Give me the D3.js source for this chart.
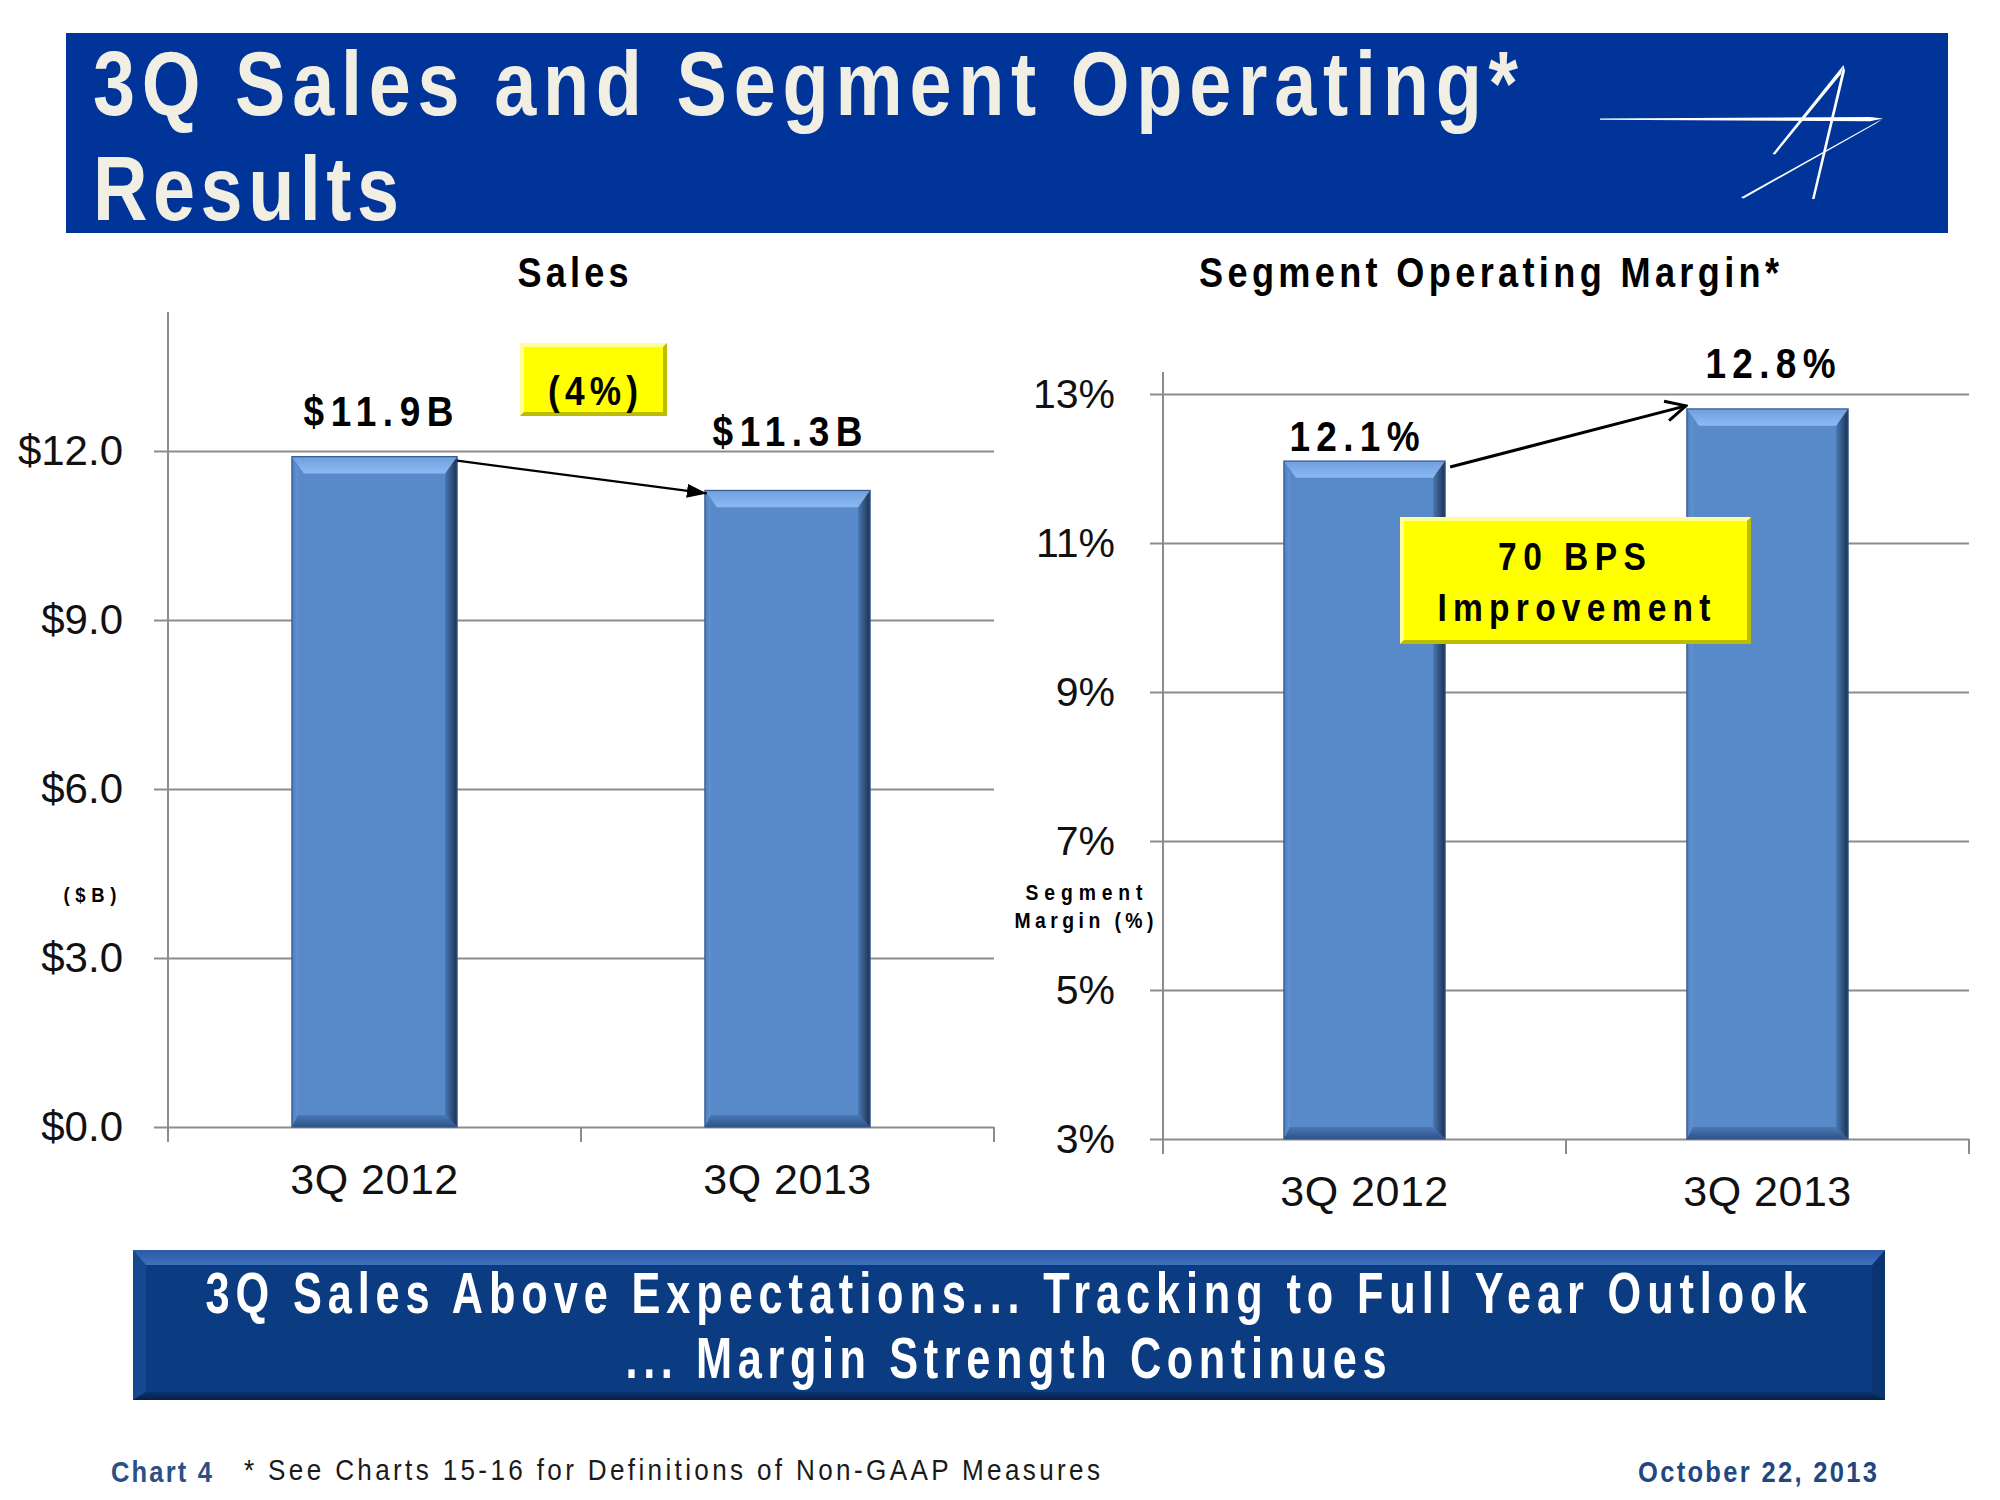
<!DOCTYPE html>
<html>
<head>
<meta charset="utf-8">
<script src="https://cdn.jsdelivr.net/npm/d3@7"></script>
<style>
  html, body { margin: 0; padding: 0; background: #ffffff; }
  svg { display: block; }
</style>
</head>
<body>
<script>
// ---------------- DATA ----------------
const categories = ["3Q 2012", "3Q 2013"];
const salesValues = [11.9, 11.3];
const salesLabels = ["$11.9B", "$11.3B"];
const salesTicks = [0, 3, 6, 9, 12];
const salesTickLabels = ["$0.0", "$3.0", "$6.0", "$9.0", "$12.0"];
const marginValues = [12.1, 12.8];
const marginLabels = ["12.1%", "12.8%"];
const marginTicks = [3, 5, 7, 9, 11, 13];
const marginTickLabels = ["3%", "5%", "7%", "9%", "11%", "13%"];

// ---------------- SETUP ----------------
const W = 2000, H = 1500;
const FONT = "'Liberation Sans', Arial, sans-serif";
const svg = d3.select("body").append("svg").attr("width", W).attr("height", H)
  .style("font-family", FONT);
svg.append("rect").attr("width", W).attr("height", H).attr("fill", "#ffffff");

const defs = svg.append("defs");
function linGrad(id, x1, y1, x2, y2, stops) {
  const g = defs.append("linearGradient").attr("id", id)
    .attr("x1", x1).attr("y1", y1).attr("x2", x2).attr("y2", y2);
  stops.forEach(s => g.append("stop").attr("offset", s[0]).attr("stop-color", s[1]));
}
linGrad("barRight", 0, 0, 1, 0, [[0, "#4a77b2"], [1, "#1b3152"]]);
linGrad("barTop", 0, 0, 0, 1, [[0, "#6f9fe0"], [1, "#8cb9f2"]]);
linGrad("barLeft", 0, 0, 1, 0, [[0, "#4f7fbd"], [1, "#6393d2"]]);
linGrad("barBottom", 0, 0, 0, 1, [[0, "#4a78b6"], [1, "#2e5387"]]);
linGrad("banTop", 0, 0, 0, 1, [[0, "#2b5aa6"], [1, "#3f70bf"]]);
linGrad("banBottom", 0, 0, 0, 1, [[0, "#0a3470"], [1, "#061f48"]]);

defs.append("marker").attr("id", "headFilled")
  .attr("viewBox", "0 0 10 10").attr("refX", 10).attr("refY", 5)
  .attr("markerUnits", "userSpaceOnUse").attr("markerWidth", 20).attr("markerHeight", 14)
  .attr("preserveAspectRatio", "none").attr("orient", "auto")
  .append("path").attr("d", "M0,0 L10,5 L0,10 Z").attr("fill", "#000");
defs.append("marker").attr("id", "headOpen")
  .attr("viewBox", "-1 -1 12 12").attr("refX", 10).attr("refY", 5)
  .attr("markerUnits", "userSpaceOnUse").attr("markerWidth", 24).attr("markerHeight", 24)
  .attr("orient", "auto")
  .append("path").attr("d", "M0,0 L10,5 L0,10").attr("fill", "none")
  .attr("stroke", "#000").attr("stroke-width", 1.5).attr("stroke-linejoin", "miter");

// text helper: optional horizontal squeeze (sq) to mimic the condensed, letter-spaced face
function txt(g, o) {
  const s = o.sq || 1;
  const t = g.append("text").text(o.text)
    .attr("font-size", o.size).attr("font-weight", o.weight || "normal")
    .attr("fill", o.fill || "#000").attr("text-anchor", o.anchor || "start")
    .attr("font-family", FONT);
  if (s !== 1) {
    t.attr("x", 0).attr("y", 0).attr("transform", `translate(${o.x},${o.y}) scale(${s},1)`);
  } else {
    t.attr("x", o.x).attr("y", o.y);
  }
  if (o.len) t.attr("textLength", o.len / s).attr("lengthAdjust", o.adjust || "spacing");
  return t;
}

// ---------------- TITLE BANNER ----------------
svg.append("rect").attr("x", 66).attr("y", 33).attr("width", 1882).attr("height", 200).attr("fill", "#013498");
txt(svg, { x: 93, y: 115, text: "3Q Sales and Segment Operating*", size: 90, weight: "bold", fill: "#f1eee4", len: 1425, sq: 0.84 });
txt(svg, { x: 93, y: 220, text: "Results", size: 90, weight: "bold", fill: "#f1eee4", len: 306, sq: 0.84 });

// logo
const logo = svg.append("g").attr("fill", "#ffffff");
logo.append("polygon").attr("points", "1600,118.4 1870,117 1883,118.5 1870,121.2 1600,119.8");
logo.append("polygon").attr("points", "1883,118.5 1741,197.5 1743.5,198.5 1876,123.5");
logo.append("polygon").attr("points", "1843.5,65 1812,199 1814.5,199 1845,71");
logo.append("polygon").attr("points", "1843.5,65 1772.5,154 1775,154.5 1841,74");

// ---------------- BAR DRAWER ----------------
function bevelBar(g, x0, x1, y0, y1) {
  const b = 12;
  g.append("rect").attr("x", x0).attr("y", y0).attr("width", x1 - x0).attr("height", y1 - y0)
    .attr("fill", "#5889c8");
  g.append("polygon").attr("fill", "url(#barLeft)")
    .attr("points", [[x0, y0], [x0 + b * 0.5, y0 + b], [x0 + b * 0.5, y1 - b], [x0, y1]].join(" "));
  g.append("polygon").attr("fill", "url(#barBottom)")
    .attr("points", [[x0, y1], [x1, y1], [x1 - b, y1 - b], [x0 + b * 0.5, y1 - b]].join(" "));
  g.append("polygon").attr("fill", "url(#barRight)")
    .attr("points", [[x1, y0], [x1, y1], [x1 - b, y1 - b], [x1 - b, y0 + b]].join(" "));
  g.append("polygon").attr("fill", "url(#barTop)")
    .attr("points", [[x0, y0], [x1, y0], [x1 - b, y0 + b * 1.4], [x0 + b, y0 + b * 1.4]].join(" "));
  g.append("rect").attr("x", x0).attr("y", y0).attr("width", x1 - x0).attr("height", y1 - y0)
    .attr("fill", "none").attr("stroke", "#34598c").attr("stroke-width", 1.2);
}

function yellowBox(g, x, y, w, h) {
  const b = 4;
  g.append("rect").attr("x", x).attr("y", y).attr("width", w).attr("height", h).attr("fill", "#ffff00");
  g.append("polygon").attr("fill", "#ffff99")
    .attr("points", [[x, y], [x + w, y], [x + w - b, y + b], [x + b, y + b], [x + b, y + h - b], [x, y + h]].join(" "));
  g.append("polygon").attr("fill", "#bdbd00")
    .attr("points", [[x + w, y], [x + w, y + h], [x, y + h], [x + b, y + h - b], [x + w - b, y + h - b], [x + w - b, y + b]].join(" "));
}

const GRID = "#8c8c8c";

// ---------------- SALES CHART ----------------
const sx = d3.scaleBand().domain(categories).range([168, 994]).paddingInner(0).paddingOuter(0);
const sy = d3.scaleLinear().domain([0, 12]).range([1127, 451]);
const sTop = 312;
const sg = svg.append("g");

txt(sg, { x: 573, y: 287, text: "Sales", size: 42, weight: "bold", anchor: "middle", len: 111, sq: 0.86 });

sg.append("g").attr("transform", "translate(168,0)")
  .call(d3.axisRight(sy).tickValues(salesTicks).tickSize(994 - 168).tickFormat(""))
  .call(a => a.select(".domain").remove())
  .call(a => a.selectAll("line").attr("stroke", GRID).attr("stroke-width", 2));
sg.append("g").attr("transform", "translate(168,0)")
  .call(d3.axisLeft(sy).tickValues(salesTicks).tickSize(14).tickPadding(31)
    .tickFormat((d, i) => salesTickLabels[i]))
  .call(a => a.select(".domain").remove())
  .call(a => a.selectAll("line").attr("stroke", GRID).attr("stroke-width", 2))
  .call(a => a.selectAll("text").attr("font-size", 42).attr("fill", "#111").attr("font-family", FONT));
sg.append("line").attr("x1", 168).attr("x2", 168).attr("y1", sTop).attr("y2", sy(0) + 15)
  .attr("stroke", GRID).attr("stroke-width", 2);
const sBounds = categories.map(c => sx(c)).concat([sx.range()[1]]);
sg.selectAll(".xb").data(sBounds).enter().append("line")
  .attr("x1", d => d).attr("x2", d => d).attr("y1", sy(0)).attr("y2", sy(0) + 15)
  .attr("stroke", GRID).attr("stroke-width", 2);
sg.append("g").attr("transform", `translate(0,${sy(0)})`)
  .call(d3.axisBottom(sx).tickSize(0).tickPadding(36))
  .call(a => a.select(".domain").remove())
  .call(a => a.selectAll("text").attr("font-size", 43).attr("fill", "#111").attr("font-family", FONT)
    .attr("letter-spacing", 0.5));

const sBarW = sx.bandwidth() * 0.4;
categories.forEach((c, i) => {
  const cx = sx(c) + sx.bandwidth() / 2;
  bevelBar(sg, cx - sBarW / 2, cx + sBarW / 2, sy(salesValues[i]), sy(0));
});
const sLabelDx = [4, 0], sLabelDy = [31, 44];
categories.forEach((c, i) => {
  const cx = sx(c) + sx.bandwidth() / 2;
  txt(sg, { x: cx + sLabelDx[i], y: sy(salesValues[i]) - sLabelDy[i], text: salesLabels[i],
    size: 42, weight: "bold", anchor: "middle", len: 150, sq: 0.88 });
});
{
  const c0 = sx(categories[0]) + sx.bandwidth() / 2, c1 = sx(categories[1]) + sx.bandwidth() / 2;
  sg.append("line").attr("x1", c0 + sBarW / 2).attr("y1", sy(salesValues[0]) + 4)
    .attr("x2", c1 - sBarW / 2 + 2).attr("y2", sy(salesValues[1]) + 3)
    .attr("stroke", "#000").attr("stroke-width", 2.2).attr("marker-end", "url(#headFilled)");
}
yellowBox(sg, 520, 343, 147, 73);
txt(sg, { x: 593, y: 405, text: "(4%)", size: 41, weight: "bold", anchor: "middle", len: 90, sq: 0.86 });
txt(sg, { x: 90, y: 902, text: "($B)", size: 21, weight: "bold", anchor: "middle", len: 53, sq: 0.88 });

// ---------------- MARGIN CHART ----------------
const mx = d3.scaleBand().domain(categories).range([1163, 1969]).paddingInner(0).paddingOuter(0);
const my = d3.scaleLinear().domain([3, 13]).range([1139, 394]);
const mTop = 372;
const mg = svg.append("g");

txt(mg, { x: 1489, y: 287, text: "Segment Operating Margin*", size: 42, weight: "bold", anchor: "middle", len: 580, sq: 0.86 });

mg.append("g").attr("transform", "translate(1163,0)")
  .call(d3.axisRight(my).tickValues(marginTicks).tickSize(1969 - 1163).tickFormat(""))
  .call(a => a.select(".domain").remove())
  .call(a => a.selectAll("line").attr("stroke", GRID).attr("stroke-width", 2));
mg.append("g").attr("transform", "translate(1163,0)")
  .call(d3.axisLeft(my).tickValues(marginTicks).tickSize(13).tickPadding(35)
    .tickFormat((d, i) => marginTickLabels[i]))
  .call(a => a.select(".domain").remove())
  .call(a => a.selectAll("line").attr("stroke", GRID).attr("stroke-width", 2))
  .call(a => a.selectAll("text").attr("font-size", 41).attr("fill", "#111").attr("font-family", FONT));
mg.append("line").attr("x1", 1163).attr("x2", 1163).attr("y1", mTop).attr("y2", my(3) + 15)
  .attr("stroke", GRID).attr("stroke-width", 2);
const mBounds = categories.map(c => mx(c)).concat([mx.range()[1]]);
mg.selectAll(".xb").data(mBounds).enter().append("line")
  .attr("x1", d => d).attr("x2", d => d).attr("y1", my(3)).attr("y2", my(3) + 15)
  .attr("stroke", GRID).attr("stroke-width", 2);
mg.append("g").attr("transform", `translate(0,${my(3)})`)
  .call(d3.axisBottom(mx).tickSize(0).tickPadding(36))
  .call(a => a.select(".domain").remove())
  .call(a => a.selectAll("text").attr("font-size", 43).attr("fill", "#111").attr("font-family", FONT)
    .attr("letter-spacing", 0.5));

const mBarW = mx.bandwidth() * 0.4;
categories.forEach((c, i) => {
  const cx = mx(c) + mx.bandwidth() / 2;
  bevelBar(mg, cx - mBarW / 2, cx + mBarW / 2, my(marginValues[i]), my(3));
});
const mLabelDx = [-10, 3], mLabelDy = [10, 31];
categories.forEach((c, i) => {
  const cx = mx(c) + mx.bandwidth() / 2;
  txt(mg, { x: cx + mLabelDx[i], y: my(marginValues[i]) - mLabelDy[i], text: marginLabels[i],
    size: 42, weight: "bold", anchor: "middle", len: 130, sq: 0.88 });
});
{
  const c0 = mx(categories[0]) + mx.bandwidth() / 2, c1 = mx(categories[1]) + mx.bandwidth() / 2;
  mg.append("line").attr("x1", c0 + mBarW / 2 + 5).attr("y1", my(marginValues[0]) + 6)
    .attr("x2", c1 - mBarW / 2 - 1).attr("y2", my(marginValues[1]) - 3)
    .attr("stroke", "#000").attr("stroke-width", 3).attr("marker-end", "url(#headOpen)");
}
yellowBox(mg, 1400, 517, 351, 127);
txt(mg, { x: 1572, y: 570, text: "70 BPS", size: 39, weight: "bold", anchor: "middle", len: 148, sq: 0.86 });
txt(mg, { x: 1574, y: 621, text: "Improvement", size: 39, weight: "bold", anchor: "middle", len: 273, sq: 0.86 });
txt(mg, { x: 1084, y: 900, text: "Segment", size: 22, weight: "bold", anchor: "middle", len: 117, sq: 0.88 });
txt(mg, { x: 1084, y: 928, text: "Margin (%)", size: 22, weight: "bold", anchor: "middle", len: 139, sq: 0.88 });

// ---------------- BOTTOM BANNER ----------------
{
  const x = 133, y = 1250, w = 1752, h = 150;
  const g = svg.append("g");
  g.append("rect").attr("x", x).attr("y", y).attr("width", w).attr("height", h).attr("fill", "#0b3b80");
  g.append("polygon").attr("fill", "#15498f")
    .attr("points", [[x, y], [x + 13, y + 15], [x + 13, y + h - 8], [x, y + h]].join(" "));
  g.append("polygon").attr("fill", "#0a3370")
    .attr("points", [[x + w, y], [x + w - 13, y + 15], [x + w - 13, y + h - 8], [x + w, y + h]].join(" "));
  g.append("polygon").attr("fill", "url(#banTop)")
    .attr("points", [[x, y], [x + w, y], [x + w - 13, y + 15], [x + 13, y + 15]].join(" "));
  g.append("polygon").attr("fill", "url(#banBottom)")
    .attr("points", [[x, y + h], [x + w, y + h], [x + w - 13, y + h - 8], [x + 13, y + h - 8]].join(" "));
  txt(g, { x: 1006, y: 1313, text: "3Q Sales Above Expectations... Tracking to Full Year Outlook",
    size: 57, weight: "bold", fill: "#ffffff", anchor: "middle", len: 1601, sq: 0.76 });
  txt(g, { x: 1006, y: 1378, text: "... Margin Strength Continues",
    size: 57, weight: "bold", fill: "#ffffff", anchor: "middle", len: 761, sq: 0.76 });
}

// ---------------- FOOTER ----------------
txt(svg, { x: 111, y: 1482, text: "Chart 4", size: 29, weight: "bold", fill: "#2b4f86", len: 101, sq: 0.88 });
txt(svg, { x: 244, y: 1480, text: "* See Charts 15-16 for Definitions of Non-GAAP Measures", size: 29, fill: "#1a1a1a", len: 856, sq: 0.9 });
txt(svg, { x: 1638, y: 1482, text: "October 22, 2013", size: 29, weight: "bold", fill: "#22477f", len: 239, sq: 0.88 });
</script>
</body>
</html>
